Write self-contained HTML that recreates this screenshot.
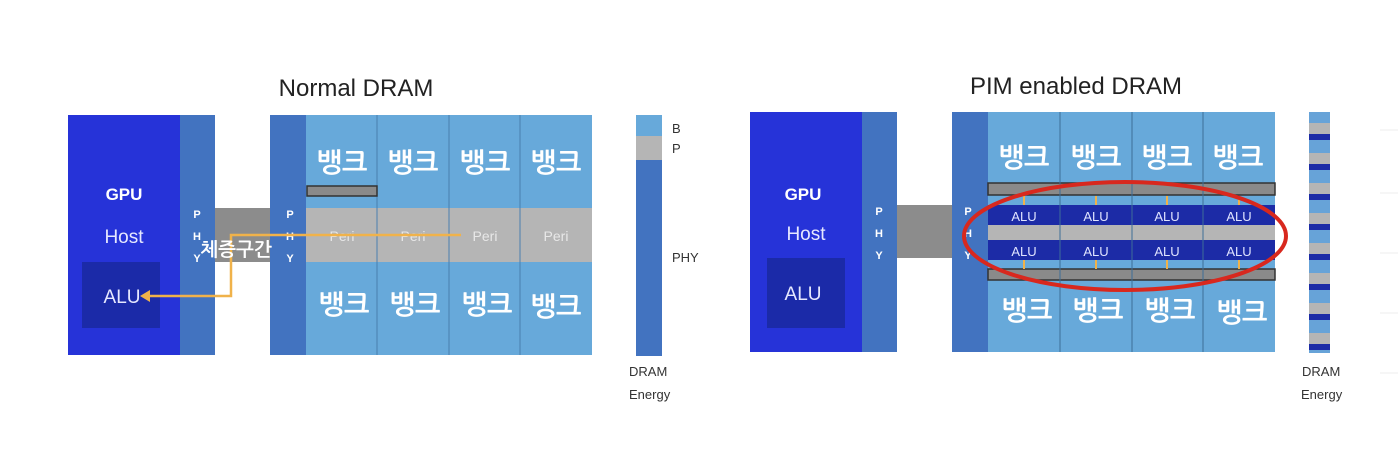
<!DOCTYPE html>
<html><head><meta charset="utf-8"><style>
html,body{margin:0;padding:0;background:#fff;width:1398px;height:468px;overflow:hidden}
text{font-family:"Liberation Sans","Noto Sans CJK KR",sans-serif}
.k{font-family:"Liberation Sans","NanumGothic","Noto Sans CJK KR",sans-serif;font-size:27px;font-weight:bold;fill:#fff}
</style></head><body>
<svg width="1398" height="468" viewBox="0 0 1398 468" xmlns="http://www.w3.org/2000/svg">
<defs>
<pattern id="st" patternUnits="userSpaceOnUse" x="1309" y="112" width="21" height="30">
<rect width="21" height="30" fill="#67a3d8"/>
<rect y="11" width="21" height="11" fill="#b5b5b5"/>
<rect y="22" width="21" height="6" fill="#1c2ba6"/>
</pattern>
</defs>
<!-- faint grid -->
<g stroke="#ececec" stroke-width="1">
<line x1="1380" y1="130" x2="1398" y2="130"/><line x1="1380" y1="193" x2="1398" y2="193"/>
<line x1="1380" y1="253" x2="1398" y2="253"/><line x1="1380" y1="313" x2="1398" y2="313"/>
<line x1="1380" y1="373" x2="1398" y2="373"/>
</g>
<!-- LEFT -->
<text x="356" y="96" font-size="24" text-anchor="middle" fill="#222">Normal DRAM</text>
<rect x="68" y="115" width="112" height="240" fill="#2633d8"/>
<rect x="180" y="115" width="35" height="240" fill="#4273c0"/>
<rect x="82" y="262" width="78" height="66" fill="#1b2aa8"/>
<text x="124" y="200" font-size="17" font-weight="bold" fill="#fff" text-anchor="middle">GPU</text>
<text x="124" y="243" font-size="19" fill="#e6e8ff" text-anchor="middle">Host</text>
<text x="122" y="303" font-size="19" fill="#e6e8ff" text-anchor="middle">ALU</text>
<rect x="215" y="208" width="55" height="54" fill="#8c8c8c"/>
<rect x="270" y="115" width="36" height="240" fill="#4273c0"/>
<g font-size="11" font-weight="bold" fill="#fff" text-anchor="middle">
<text x="197" y="218">P</text><text x="197" y="240">H</text><text x="197" y="262">Y</text>
<text x="290" y="218">P</text><text x="290" y="240">H</text><text x="290" y="262">Y</text>
</g>
<rect x="306" y="115" width="286" height="93" fill="#67a9da"/>
<rect x="306" y="208" width="286" height="54" fill="#b5b5b5"/>
<rect x="306" y="262" width="286" height="93" fill="#67a9da"/>
<g stroke="#4a7fae" stroke-width="1">
<line x1="377" y1="115" x2="377" y2="355"/><line x1="449" y1="115" x2="449" y2="355"/><line x1="520" y1="115" x2="520" y2="355"/>
</g>
<rect x="307" y="186" width="70" height="10" fill="#8a8a8a" stroke="#333" stroke-width="1.5"/>
<g class="k" text-anchor="middle">
<text class="k" x="342" y="172">뱅크</text><text class="k" x="413" y="172">뱅크</text><text class="k" x="485" y="172">뱅크</text><text class="k" x="556" y="172">뱅크</text>
<text class="k" x="344" y="314">뱅크</text><text class="k" x="415" y="314">뱅크</text><text class="k" x="487" y="314">뱅크</text><text class="k" x="556" y="316">뱅크</text>
</g>
<g font-size="14" fill="#e8e8e8" text-anchor="middle">
<text x="342" y="241">Peri</text><text x="413" y="241">Peri</text><text x="485" y="241">Peri</text><text x="556" y="241">Peri</text>
</g>
<polyline points="461,235 231,235 231,296 148,296" fill="none" stroke="#f0b24a" stroke-width="2.5"/>
<polygon points="140,296 150,290 150,302" fill="#f0b24a"/>
<text x="236" y="256" font-size="19" font-weight="bold" fill="#fff" text-anchor="middle" style="font-family:'Liberation Sans','NanumGothic','Noto Sans CJK KR',sans-serif">체증구간</text>
<rect x="636" y="115" width="26" height="241" fill="#4273c0"/>
<rect x="636" y="115" width="26" height="21" fill="#67a9da"/>
<rect x="636" y="136" width="26" height="24" fill="#b5b5b5"/>
<g font-size="13" fill="#333">
<text x="672" y="133">B</text><text x="672" y="153">P</text><text x="672" y="262">PHY</text>
<text x="629" y="376">DRAM</text><text x="629" y="399">Energy</text>
</g>
<!-- RIGHT -->
<text x="1076" y="94" font-size="24" text-anchor="middle" fill="#222">PIM enabled DRAM</text>
<rect x="750" y="112" width="112" height="240" fill="#2633d8"/>
<rect x="862" y="112" width="35" height="240" fill="#4273c0"/>
<rect x="767" y="258" width="78" height="70" fill="#1b2aa8"/>
<text x="803" y="200" font-size="17" font-weight="bold" fill="#fff" text-anchor="middle">GPU</text>
<text x="806" y="240" font-size="19" fill="#e6e8ff" text-anchor="middle">Host</text>
<text x="803" y="300" font-size="19" fill="#e6e8ff" text-anchor="middle">ALU</text>
<rect x="897" y="205" width="55" height="53" fill="#8c8c8c"/>
<rect x="952" y="112" width="36" height="240" fill="#4273c0"/>
<g font-size="11" font-weight="bold" fill="#fff" text-anchor="middle">
<text x="879" y="215">P</text><text x="879" y="237">H</text><text x="879" y="259">Y</text>
<text x="968" y="215">P</text><text x="968" y="237">H</text><text x="968" y="259">Y</text>
</g>
<rect x="988" y="112" width="287" height="240" fill="#67a9da"/>
<rect x="988" y="183" width="287" height="12" fill="#8a8a8a" stroke="#333" stroke-width="1.5"/>
<rect x="988" y="269" width="287" height="11" fill="#8a8a8a" stroke="#333" stroke-width="1.5"/>
<rect x="988" y="205" width="287" height="20" fill="#1c2ba6"/>
<rect x="988" y="225" width="287" height="15" fill="#b5b5b5"/>
<rect x="988" y="240" width="287" height="20" fill="#1c2ba6"/>
<g stroke="#3e6e98" stroke-width="1">
<line x1="1060" y1="112" x2="1060" y2="352"/><line x1="1132" y1="112" x2="1132" y2="352"/><line x1="1203" y1="112" x2="1203" y2="352"/>
</g>
<g stroke="#f0b24a" stroke-width="2">
<line x1="1024" y1="196" x2="1024" y2="205"/><line x1="1096" y1="196" x2="1096" y2="205"/><line x1="1167" y1="196" x2="1167" y2="205"/><line x1="1239" y1="196" x2="1239" y2="205"/>
<line x1="1024" y1="260" x2="1024" y2="269"/><line x1="1096" y1="260" x2="1096" y2="269"/><line x1="1167" y1="260" x2="1167" y2="269"/><line x1="1239" y1="260" x2="1239" y2="269"/>
</g>
<g font-size="13" fill="#e0e4ff" text-anchor="middle">
<text x="1024" y="221">ALU</text><text x="1096" y="221">ALU</text><text x="1167" y="221">ALU</text><text x="1239" y="221">ALU</text>
<text x="1024" y="256">ALU</text><text x="1096" y="256">ALU</text><text x="1167" y="256">ALU</text><text x="1239" y="256">ALU</text>
</g>
<g text-anchor="middle">
<text class="k" x="1024" y="167">뱅크</text><text class="k" x="1096" y="167">뱅크</text><text class="k" x="1167" y="167">뱅크</text><text class="k" x="1238" y="167">뱅크</text>
<text class="k" x="1027" y="320">뱅크</text><text class="k" x="1098" y="320">뱅크</text><text class="k" x="1170" y="320">뱅크</text><text class="k" x="1242" y="322">뱅크</text>
</g>
<ellipse cx="1125" cy="236" rx="161" ry="54" fill="none" stroke="#d8281e" stroke-width="4"/>
<rect x="1309" y="112" width="21" height="241" fill="url(#st)"/>
<g font-size="13" fill="#333"><text x="1302" y="376">DRAM</text><text x="1301" y="399">Energy</text></g>
</svg>
</body></html>
